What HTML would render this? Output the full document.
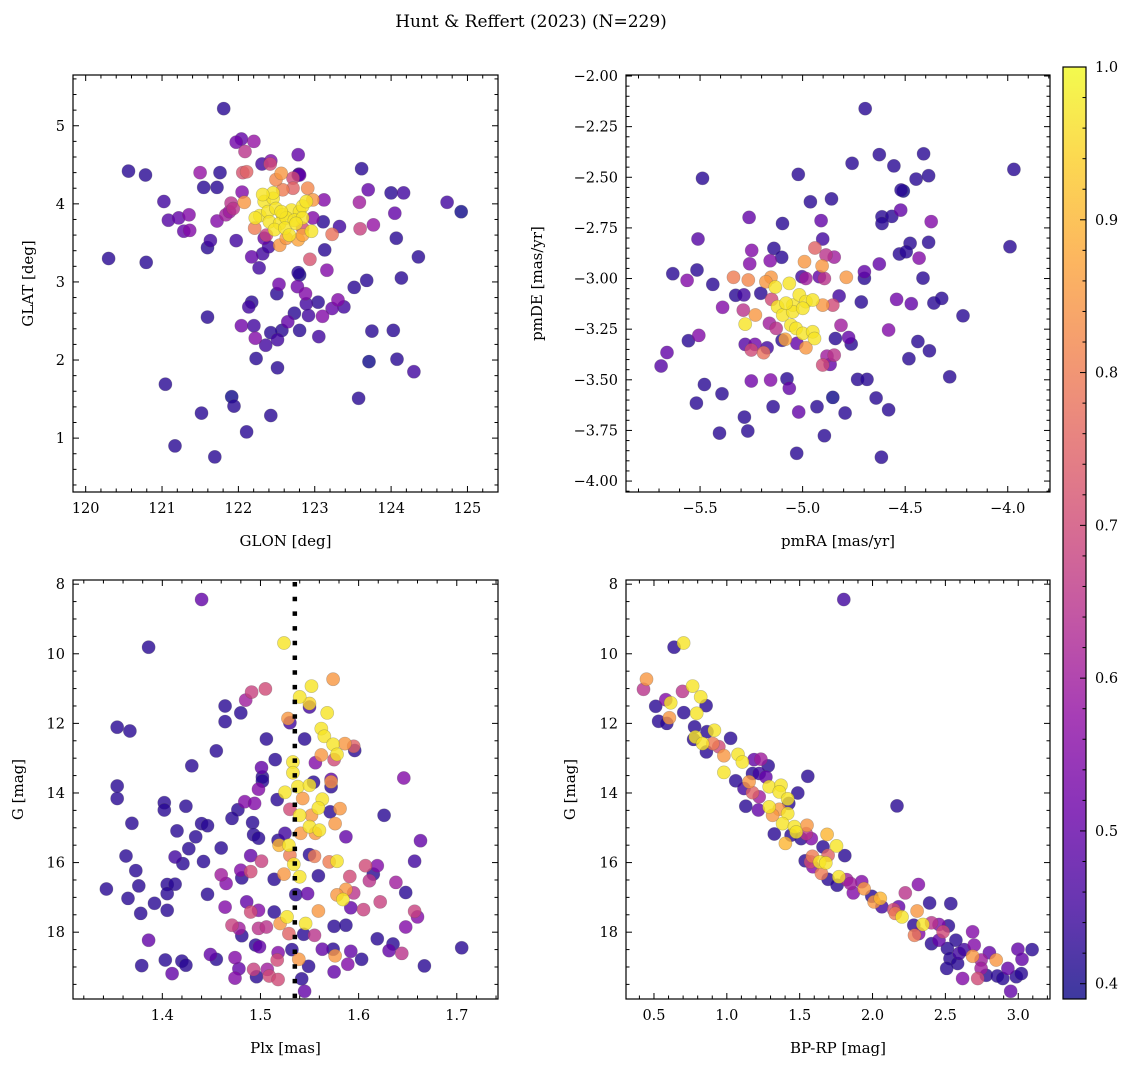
<!DOCTYPE html>
<html><head><meta charset="utf-8"><style>
html,body{margin:0;padding:0;background:#fff;}
svg{display:block;font-family:"DejaVu Serif","Liberation Serif",serif;}
</style></head><body>
<svg id="fig" width="1136" height="1067" viewBox="0 0 1136 1067" xmlns="http://www.w3.org/2000/svg">
<text x="531" y="27" font-size="17" text-anchor="middle">Hunt &amp; Reffert (2023) (N=229)</text>
</svg>
<script>
// ---------- Panel 1: GLON / GLAT ----------
const p1Lon=[121.807,120.561,120.783,121.025,121.083,121.218,121.353,121.285,121.363,120.300,120.793,121.498,121.759,121.546,121.720,121.971,122.039,122.203,122.087,122.058,122.107,122.309,122.425,122.416,122.783,123.613,123.700,124.000,124.164,124.734,124.918,123.585,124.048,123.768,123.594,123.121,123.111,123.324,123.227,124.068,124.357,123.130,122.937,123.159,121.720,121.836,121.904,122.049,121.633,121.595,121.971,122.174,122.319,122.396,122.271,122.783,122.802,122.532,122.503,122.773,122.879,122.889,123.044,123.517,123.681,124.135,123.304,123.382,123.227,123.102,122.918,122.734,122.647,122.802,122.570,122.425,122.512,122.358,122.203,122.222,122.039,122.174,122.136,121.595,123.053,123.749,124.029,123.710,124.077,124.299,122.232,122.512,121.044,121.913,121.942,121.517,122.425,122.107,121.170,121.691,123.575,122.783,122.792,
122.338,122.454,122.280,122.387,122.493,122.580,122.696,122.802,122.841,122.889,122.222,122.406,122.541,122.628,122.734,122.841,122.474,122.609,122.957,122.667,122.454,122.319,122.561,122.754,
122.561,122.493,122.580,122.976,122.078,122.213,122.541,122.628,122.783,122.908,122.715,122.841,
121.933,121.884,122.367,122.338,122.841,122.802,122.715,122.976];
const p1Lat=[5.22,4.42,4.37,4.03,3.79,3.82,3.86,3.65,3.66,3.30,3.25,4.40,4.40,4.21,4.21,4.79,4.83,4.80,4.67,4.40,4.41,4.51,4.55,4.51,4.63,4.45,4.18,4.14,4.14,4.02,3.90,4.02,3.88,3.73,3.68,4.05,3.77,3.71,3.61,3.56,3.32,3.41,3.29,3.15,3.78,3.86,4.01,4.15,3.53,3.44,3.53,3.32,3.36,3.45,3.18,3.12,3.09,2.97,2.85,2.94,2.85,2.72,2.74,2.93,3.02,3.05,2.77,2.68,2.66,2.56,2.57,2.60,2.49,2.38,2.38,2.35,2.26,2.19,2.44,2.28,2.44,2.74,2.68,2.55,2.30,2.37,2.38,1.98,2.01,1.85,2.02,1.90,1.69,1.53,1.41,1.32,1.29,1.08,0.90,0.76,1.51,4.37,4.38,
4.03,4.07,3.85,3.90,3.94,3.86,3.92,3.90,3.97,4.03,3.82,3.77,3.75,3.82,3.79,3.82,3.67,3.69,3.65,3.60,4.14,4.12,3.90,3.75,
4.39,4.31,4.18,4.05,4.02,3.69,3.47,3.56,3.54,4.20,4.20,3.60,
3.94,3.90,3.60,3.56,3.69,4.37,4.33,3.82];
const p1Prob=[0.42,0.42,0.42,0.45,0.48,0.5,0.55,0.5,0.55,0.42,0.42,0.58,0.42,0.42,0.42,0.52,0.5,0.58,0.65,0.72,0.75,0.45,0.55,0.7,0.5,0.42,0.5,0.42,0.45,0.45,0.35,0.6,0.5,0.58,0.68,0.55,0.42,0.45,0.78,0.42,0.42,0.42,0.72,0.55,0.55,0.6,0.65,0.55,0.45,0.42,0.45,0.5,0.45,0.45,0.45,0.42,0.4,0.52,0.42,0.52,0.55,0.45,0.42,0.42,0.42,0.42,0.55,0.45,0.5,0.55,0.45,0.42,0.5,0.42,0.42,0.42,0.45,0.45,0.45,0.55,0.52,0.42,0.45,0.42,0.45,0.42,0.42,0.35,0.42,0.45,0.42,0.42,0.42,0.35,0.42,0.42,0.42,0.42,0.42,0.42,0.42,0.45,0.42,
0.97,0.97,0.97,0.97,0.97,0.97,0.97,0.97,0.97,0.97,0.97,0.97,0.97,0.97,0.97,0.97,0.97,0.97,0.97,0.97,0.97,0.97,0.97,0.97,
0.85,0.82,0.8,0.85,0.85,0.8,0.85,0.85,0.87,0.82,0.75,0.87,
0.65,0.6,0.68,0.5,0.7,0.5,0.7,0.55];

// ---------- Panel 2: pmRA / pmDE ----------
const p2Ra=[-4.695,-5.488,-5.021,-4.759,-4.626,-4.555,-4.410,-4.447,-4.386,-3.970,-3.989,-4.520,-4.509,-4.962,-4.859,-4.522,-4.613,-4.565,-4.613,-4.373,-5.261,-5.098,-4.910,-4.902,-5.510,-4.476,-4.386,-4.528,-4.495,-4.432,-5.633,-5.563,-5.515,-5.438,-5.337,-5.265,-5.248,-5.258,-5.140,-5.158,-5.102,-4.940,-4.991,-4.905,-4.886,-4.846,-4.787,-4.699,-4.699,-4.626,-4.413,-5.390,-4.714,-4.542,-4.470,-4.360,-4.322,-4.218,-4.822,-5.326,-5.286,-5.204,-4.581,-4.813,-5.506,-5.557,-5.661,-5.690,-5.280,-5.232,-5.250,-5.190,-5.173,-5.100,-4.840,-4.776,-4.763,-4.881,-4.846,-4.902,-4.866,-4.438,-4.382,-4.482,-4.283,-5.250,-5.156,-5.076,-5.065,-5.479,-5.393,-5.518,-5.144,-5.019,-4.930,-4.853,-4.793,-4.732,-4.686,-4.642,-4.581,-5.284,-5.267,-5.405,-4.894,-5.029,-4.616,
-5.133,-5.065,-5.122,-5.048,-5.016,-4.984,-4.951,-5.097,-5.048,-5.057,-5.032,-4.999,-4.951,-4.942,-5.280,-5.081,-4.999,
-5.154,-5.179,-5.230,-5.085,-4.984,-4.902,
-5.151,-5.289,-5.129,-5.162,-4.984,-4.894,-4.853,
-4.918,-5.003,-5.028];
const p2De=[-2.161,-2.505,-2.486,-2.431,-2.388,-2.444,-2.384,-2.509,-2.492,-2.461,-2.843,-2.563,-2.568,-2.621,-2.607,-2.662,-2.695,-2.693,-2.728,-2.719,-2.698,-2.728,-2.714,-2.805,-2.805,-2.826,-2.821,-2.879,-2.868,-2.899,-2.976,-3.009,-2.958,-3.029,-2.994,-3.007,-2.861,-2.927,-2.851,-2.912,-2.895,-2.849,-2.917,-2.938,-2.884,-2.894,-2.994,-2.966,-2.999,-2.928,-2.998,-3.142,-3.116,-3.103,-3.124,-3.121,-3.098,-3.184,-3.086,-3.083,-3.081,-3.073,-3.254,-3.231,-3.281,-3.307,-3.365,-3.432,-3.325,-3.325,-3.353,-3.366,-3.342,-3.305,-3.296,-3.291,-3.323,-3.383,-3.378,-3.427,-3.424,-3.311,-3.357,-3.396,-3.485,-3.506,-3.501,-3.495,-3.542,-3.523,-3.569,-3.615,-3.633,-3.659,-3.633,-3.587,-3.664,-3.498,-3.498,-3.590,-3.648,-3.684,-3.753,-3.763,-3.776,-3.863,-3.882,
-3.042,-3.024,-3.139,-3.131,-3.081,-3.114,-3.106,-3.180,-3.164,-3.230,-3.246,-3.271,-3.263,-3.296,-3.225,-3.122,-3.147,
-2.994,-3.016,-3.180,-3.300,-3.342,-3.131,
-3.103,-3.156,-3.246,-3.221,-3.000,-3.000,-3.131,
-2.991,-2.991,-3.320];
const p2Prob=[0.42,0.42,0.42,0.42,0.42,0.42,0.42,0.42,0.42,0.42,0.42,0.42,0.38,0.42,0.42,0.5,0.42,0.42,0.42,0.55,0.5,0.42,0.5,0.45,0.48,0.42,0.42,0.42,0.42,0.55,0.42,0.55,0.42,0.42,0.8,0.82,0.55,0.55,0.42,0.55,0.42,0.75,0.85,0.85,0.65,0.6,0.85,0.5,0.42,0.5,0.42,0.55,0.42,0.52,0.5,0.42,0.42,0.42,0.45,0.42,0.45,0.42,0.55,0.6,0.55,0.42,0.5,0.48,0.48,0.52,0.7,0.78,0.45,0.42,0.42,0.5,0.42,0.6,0.65,0.7,0.5,0.42,0.42,0.42,0.42,0.52,0.55,0.42,0.5,0.42,0.42,0.42,0.42,0.5,0.42,0.38,0.42,0.42,0.42,0.42,0.42,0.42,0.42,0.42,0.42,0.42,0.42,
0.97,0.97,0.97,0.97,0.97,0.97,0.97,0.97,0.97,0.97,0.97,0.97,0.97,0.97,0.97,0.97,0.97,
0.85,0.85,0.85,0.87,0.85,0.85,
0.7,0.65,0.65,0.6,0.6,0.65,0.7,
0.5,0.45,0.5];

// ---------- Panel 3: Plx / G ----------
const p3Plx=[1.440,1.386,1.524,1.574,1.552,1.540,1.550,1.550,1.505,1.491,1.485,1.464,1.464,1.480,1.568,1.528,1.530,1.354,1.367,1.562,1.565,1.545,1.506,1.574,1.586,1.595,1.596,1.578,1.562,1.556,1.575,1.455,1.515,1.533,1.533,1.501,1.502,1.502,1.498,1.430,1.354,1.354,1.402,1.402,1.424,1.369,1.646,1.525,1.538,1.550,1.554,1.572,1.572,1.572,1.543,1.563,1.559,1.517,1.530,1.571,1.581,1.576,1.540,1.552,1.550,1.560,1.556,1.541,1.626,1.484,1.494,1.477,1.471,1.492,1.493,1.498,1.525,1.518,1.519,1.529,1.440,1.446,1.434,1.415,1.427,1.460,1.363,1.413,1.421,1.442,1.490,1.501,1.530,1.550,1.555,1.570,1.578,1.587,1.663,1.657,1.534,1.373,1.376,1.343,1.365,1.378,1.392,1.405,1.413,1.405,1.405,1.446,1.460,1.465,1.480,1.490,1.481,1.514,1.524,1.540,1.559,1.591,1.607,1.619,1.615,1.611,1.638,1.648,1.548,1.587,1.578,1.584,1.595,1.622,1.536,1.486,1.490,1.498,1.464,1.514,1.592,1.605,1.559,1.657,1.660,1.648,1.527,1.520,1.546,1.471,1.478,1.481,1.498,1.506,1.529,1.544,1.555,1.575,1.587,1.619,1.635,1.631,1.644,1.705,1.386,1.379,1.403,1.410,1.420,1.424,1.449,1.455,1.474,1.478,1.474,1.493,1.496,1.495,1.499,1.507,1.509,1.518,1.517,1.518,1.532,1.539,1.549,1.542,1.545,1.563,1.574,1.576,1.575,1.592,1.589,1.603,1.667];
const p3G=[8.44,9.81,9.69,10.73,10.93,11.24,11.43,11.53,11.01,11.10,11.33,11.50,11.95,11.70,11.70,11.86,11.98,12.11,12.22,12.15,12.37,12.45,12.45,12.60,12.58,12.66,12.78,12.89,12.91,13.13,13.04,12.79,13.04,13.11,13.42,13.27,13.54,13.66,13.89,13.22,13.80,14.16,14.28,14.49,14.38,14.87,13.57,13.98,13.82,13.78,13.69,13.61,13.68,13.82,14.16,14.18,14.43,14.19,14.47,14.54,14.45,14.88,14.64,14.64,14.97,15.07,15.16,15.16,14.64,14.25,14.30,14.48,14.73,14.85,15.20,15.30,15.16,15.36,15.50,15.50,14.88,14.94,15.26,15.09,15.60,15.58,15.81,15.84,16.03,15.97,15.80,15.96,15.79,15.77,15.82,15.98,15.96,15.26,15.37,15.96,16.05,16.23,16.67,16.76,17.03,17.46,17.17,16.63,16.62,16.89,17.37,16.91,16.35,16.60,16.22,16.26,16.44,16.48,16.33,16.41,16.38,16.40,16.09,16.09,16.33,16.52,16.57,16.86,16.89,16.77,16.93,17.06,16.87,17.13,16.92,17.13,17.42,17.37,17.28,17.42,17.30,17.35,17.39,17.40,17.56,17.85,17.56,17.75,17.75,17.80,17.89,18.10,17.89,17.85,18.04,18.06,18.09,17.83,17.80,18.19,18.34,18.53,18.61,18.45,18.23,18.96,18.80,19.19,18.83,18.95,18.64,18.78,18.73,19.05,19.32,19.07,19.28,18.37,18.42,19.07,19.26,19.36,18.80,18.59,18.50,18.78,18.98,19.34,19.70,18.49,18.49,18.68,19.14,18.55,18.92,18.78,18.97];
const p3Prob=[0.5,0.42,0.97,0.85,0.97,0.97,0.95,0.45,0.7,0.68,0.6,0.42,0.42,0.42,0.97,0.85,0.45,0.42,0.42,0.97,0.97,0.42,0.42,0.97,0.85,0.75,0.42,0.97,0.85,0.55,0.7,0.42,0.42,0.97,0.97,0.5,0.42,0.42,0.55,0.42,0.42,0.42,0.42,0.42,0.42,0.42,0.55,0.97,0.97,0.97,0.42,0.5,0.85,0.42,0.85,0.97,0.97,0.42,0.7,0.42,0.85,0.85,0.97,0.85,0.97,0.97,0.85,0.85,0.42,0.55,0.55,0.42,0.42,0.42,0.42,0.42,0.45,0.42,0.9,0.97,0.42,0.42,0.42,0.42,0.42,0.42,0.42,0.45,0.42,0.42,0.5,0.68,0.8,0.42,0.8,0.8,0.97,0.5,0.5,0.45,0.97,0.42,0.42,0.42,0.42,0.42,0.42,0.42,0.42,0.42,0.42,0.42,0.6,0.55,0.55,0.7,0.42,0.42,0.85,0.97,0.42,0.7,0.7,0.55,0.42,0.65,0.6,0.42,0.5,0.85,0.85,0.97,0.65,0.68,0.42,0.5,0.7,0.55,0.55,0.42,0.5,0.68,0.85,0.68,0.55,0.55,0.97,0.85,0.97,0.68,0.6,0.42,0.65,0.65,0.75,0.42,0.65,0.42,0.42,0.42,0.42,0.5,0.65,0.42,0.5,0.42,0.42,0.5,0.42,0.42,0.5,0.42,0.55,0.5,0.55,0.68,0.42,0.42,0.5,0.6,0.7,0.7,0.7,0.55,0.42,0.85,0.42,0.42,0.5,0.5,0.42,0.85,0.5,0.5,0.55,0.42,0.42];

// ---------- Panel 4: BP-RP / G ----------
const p4Col=[1.803,0.638,0.703,0.449,0.428,0.512,0.581,0.615,0.532,0.588,0.606,0.696,0.765,0.821,0.858,0.705,0.793,0.779,0.915,0.864,0.784,0.834,0.772,0.860,0.904,0.945,0.980,1.026,1.077,1.107,0.980,1.061,1.187,1.234,1.284,1.176,1.222,1.268,1.118,1.153,1.176,1.291,1.372,1.360,1.487,1.556,1.222,1.130,1.217,1.291,1.360,1.418,1.425,1.418,1.314,1.383,1.464,1.550,1.476,1.326,1.402,1.441,1.510,1.580,1.545,1.688,1.753,1.660,1.810,1.538,1.575,1.587,1.637,1.679,1.695,1.649,1.591,1.695,1.769,1.757,1.822,1.849,1.868,1.926,1.942,1.995,2.053,2.064,2.011,2.145,2.179,2.156,2.202,2.225,2.315,2.306,2.392,2.537,2.283,2.288,2.346,2.317,2.405,2.456,2.484,2.521,2.572,2.405,2.456,2.514,2.532,2.595,2.584,2.687,2.698,2.687,2.618,2.509,2.745,2.802,2.849,2.745,2.722,2.780,2.856,2.929,2.987,3.021,2.998,3.095,3.026,2.948,2.894,2.168,2.629];
const p4G=[8.44,9.81,9.69,10.73,11.02,11.51,11.32,11.41,11.94,12.00,11.84,11.08,10.93,11.24,11.49,11.69,11.71,12.10,12.20,12.24,12.39,12.58,12.46,12.82,12.58,12.67,12.93,12.43,12.89,13.11,13.41,13.65,13.04,13.03,13.22,13.44,13.44,13.54,13.87,13.68,13.99,13.82,13.78,13.97,14.00,13.52,14.11,14.38,14.49,14.40,14.47,14.17,14.30,14.59,14.64,14.88,14.97,14.93,15.12,15.18,15.45,15.21,15.31,15.31,15.17,15.19,15.52,15.55,15.80,15.95,15.98,15.82,15.98,16.01,15.79,16.31,16.12,16.48,16.41,16.65,16.49,16.60,16.87,16.55,16.75,16.97,17.03,17.27,17.13,17.35,17.27,17.46,17.56,16.87,16.63,17.39,17.16,17.18,17.80,18.09,17.78,18.04,17.73,17.78,17.99,17.82,18.23,18.33,18.23,18.47,18.76,18.61,18.90,17.99,18.37,18.69,19.33,19.04,18.80,18.59,18.80,19.04,19.33,19.24,19.26,19.04,19.28,19.19,18.49,18.50,18.78,19.70,19.33,14.37,18.50];
const p4Prob=[0.45,0.42,0.97,0.85,0.65,0.42,0.55,0.97,0.42,0.42,0.85,0.65,0.97,0.97,0.42,0.42,0.97,0.42,0.97,0.42,0.97,0.97,0.42,0.42,0.8,0.7,0.85,0.42,0.97,0.97,0.97,0.42,0.5,0.6,0.42,0.42,0.45,0.5,0.45,0.85,0.75,0.97,0.97,0.97,0.42,0.42,0.6,0.42,0.5,0.97,0.85,0.97,0.42,0.97,0.85,0.97,0.97,0.85,0.97,0.42,0.9,0.42,0.42,0.55,0.65,0.9,0.97,0.42,0.42,0.42,0.7,0.8,0.97,0.97,0.75,0.8,0.55,0.42,0.97,0.42,0.6,0.6,0.55,0.55,0.85,0.42,0.9,0.45,0.85,0.7,0.5,0.8,0.97,0.65,0.55,0.85,0.42,0.42,0.42,0.8,0.97,0.55,0.65,0.55,0.7,0.42,0.42,0.42,0.5,0.42,0.42,0.45,0.42,0.55,0.55,0.85,0.55,0.42,0.6,0.5,0.85,0.6,0.7,0.42,0.42,0.5,0.42,0.42,0.5,0.42,0.5,0.5,0.42,0.42,0.45];

const plxRef=[1.535];
const cbTicks=[0.4,0.5,0.6,0.7,0.8,0.9,1.0];

const NS="http://www.w3.org/2000/svg";
const svg=document.getElementById('fig');
const VMIN=0.39,VMAX=1.0;
const stops=[[13,8,135],[65,4,157],[106,0,168],[143,13,164],[177,42,144],[204,71,120],[225,100,98],[242,132,75],[252,166,54],[252,206,37],[240,249,33]];
function plasma(v){let t=(v-VMIN)/(VMAX-VMIN);t=Math.max(0,Math.min(1,t))*10;const i=Math.min(9,Math.floor(t)),f=t-i;const a=stops[i],b=stops[i+1];return 'rgb('+[0,1,2].map(k=>Math.round(a[k]+(b[k]-a[k])*f)).join(',')+')';}
function mk(tag,attrs,parent){const e=document.createElementNS(NS,tag);for(const k in attrs)e.setAttribute(k,attrs[k]);(parent||svg).appendChild(e);return e;}

function panel(o){
  const g=mk('g',{});
  
  
  const sx=v=>o.L+(v-o.x0)/(o.x1-o.x0)*(o.R-o.L);
  const sy=v=>o.B-(v-o.y0)/(o.y1-o.y0)*(o.B-o.T);
  const clip='c'+o.name;
  const cp=mk('clipPath',{id:clip},g);mk('rect',{x:o.L,y:o.T,width:o.R-o.L,height:o.B-o.T},cp);
  const pg=mk('g',{'clip-path':'url(#'+clip+')'},g);
  
  
  const idx=o.xs.map((_,i)=>i).sort((a,b)=>o.ps[a]-o.ps[b]);
  idx.forEach(i=>{
    const c=mk('circle',{cx:sx(o.xs[i]).toFixed(1),cy:sy(o.ys[i]).toFixed(1),r:6.6,fill:plasma(o.ps[i]),'fill-opacity':0.8,stroke:'#555','stroke-opacity':0.35,'stroke-width':0.6},pg);
    
    
  });
  if(o.vline){o.vline.forEach(v=>{const l=mk('line',{x1:sx(v),x2:sx(v),y1:o.T+2,y2:o.B,stroke:'#000','stroke-width':4.5,'stroke-dasharray':'4.5 10.2'},pg);
    
    });}
  const fr=mk('rect',{x:o.L,y:o.T,width:o.R-o.L,height:o.B-o.T,fill:'none',stroke:'#000','stroke-width':1.2},g);
  
  
  const eps=1e-9;
  const xa=Math.min(o.x0,o.x1),xb=Math.max(o.x0,o.x1),ya=Math.min(o.y0,o.y1),yb=Math.max(o.y0,o.y1);
  for(let k=Math.ceil(xa/o.xmin-eps);k*o.xmin<=xb+eps;k++){
    const v=k*o.xmin;
    const isMaj=Math.abs(v/o.xmaj-Math.round(v/o.xmaj))<1e-6;const len=isMaj?6:3.5;const X=sx(v);
    mk('line',{x1:X,x2:X,y1:o.B,y2:o.B-len,stroke:'#000','stroke-width':1},g);
    mk('line',{x1:X,x2:X,y1:o.T,y2:o.T+len,stroke:'#000','stroke-width':1},g);
    if(isMaj){const t=mk('text',{x:X,y:o.B+21,'font-size':14.5,'text-anchor':'middle'},g);t.textContent=o.xfmt(v);
      }
  }
  for(let k=Math.ceil(ya/o.ymin-eps);k*o.ymin<=yb+eps;k++){
    const v=k*o.ymin;
    const isMaj=Math.abs(v/o.ymaj-Math.round(v/o.ymaj))<1e-6;const len=isMaj?6:3.5;const Y=sy(v);
    mk('line',{x1:o.L,x2:o.L+len,y1:Y,y2:Y,stroke:'#000','stroke-width':1},g);
    mk('line',{x1:o.R,x2:o.R-len,y1:Y,y2:Y,stroke:'#000','stroke-width':1},g);
    if(isMaj){const t=mk('text',{x:o.L-8,y:Y+5,'font-size':14.5,'text-anchor':'end'},g);t.textContent=o.yfmt(v);
      }
  }
  const xl=mk('text',{x:(o.L+o.R)/2,y:o.B+54,'font-size':15,'text-anchor':'middle'},g);xl.textContent=o.xlab;
  
  const yx=o.ylx;const yc=(o.T+o.B)/2;
  const yl=mk('text',{x:yx,y:yc,'font-size':15,'text-anchor':'middle',transform:'rotate(-90 '+yx+' '+yc+')'},g);yl.textContent=o.ylab;
  
}
const fmtM=(d)=>v=>{const s=v.toFixed(d);return s.startsWith('-')?'\u2212'+s.slice(1):s;};
panel({name:'sky-position-panel',L:73,R:498,T:75,B:492,x0:119.834,x1:125.40,y0:0.31,y1:5.65,xmaj:1,xmin:0.2,ymaj:1,ymin:0.2,xfmt:fmtM(0),yfmt:fmtM(0),xlab:'GLON [deg]',ylab:'GLAT [deg]',ylx:33,xs:p1Lon,ys:p1Lat,ps:p1Prob});
panel({name:'proper-motion-panel',L:626,R:1050,T:75,B:492,x0:-5.861,x1:-3.794,y0:-4.054,y1:-1.995,xmaj:0.5,xmin:0.1,ymaj:0.25,ymin:0.05,xfmt:fmtM(1),yfmt:fmtM(2),xlab:'pmRA [mas/yr]',ylab:'pmDE [mas/yr]',ylx:542,xs:p2Ra,ys:p2De,ps:p2Prob});
panel({name:'parallax-magnitude-panel',L:73,R:498,T:580,B:999,x0:1.309,x1:1.742,y0:19.92,y1:7.88,xmaj:0.1,xmin:0.02,ymaj:2,ymin:0.5,xfmt:fmtM(1),yfmt:fmtM(0),xlab:'Plx [mas]',ylab:'G [mag]',ylx:23,xs:p3Plx,ys:p3G,ps:p3Prob,vline:plxRef});
panel({name:'color-magnitude-panel',L:626,R:1050,T:580,B:999,x0:0.308,x1:3.218,y0:19.92,y1:7.88,xmaj:0.5,xmin:0.1,ymaj:2,ymin:0.5,xfmt:fmtM(1),yfmt:fmtM(0),xlab:'BP-RP [mag]',ylab:'G [mag]',ylx:575,xs:p4Col,ys:p4G,ps:p4Prob});

// ---------- Colorbar ----------
(function(){
  const L=1063,R=1086,T=67,B=999;
  const cb=mk('g',{});
  
  
  const defs=mk('defs',{},cb);
  const gr=mk('linearGradient',{id:'plasmaGrad',x1:0,y1:1,x2:0,y2:0},defs);
  for(let i=0;i<=20;i++){const v=VMIN+(VMAX-VMIN)*i/20;mk('stop',{offset:(i/20),'stop-color':plasma(v),'stop-opacity':0.8},gr);}
  const r=mk('rect',{x:L,y:T,width:R-L,height:B-T,fill:'url(#plasmaGrad)',stroke:'#000','stroke-width':1.2},cb);
  
  
  const sy=v=>B-(v-VMIN)/(VMAX-VMIN)*(B-T);
  for(let k=0;k<=30;k++){const v=0.4+k*0.02;if(v>VMAX+1e-9)break;const isMaj=k%5===0;const Y=sy(v);
    mk('line',{x1:R,x2:R-(isMaj?6:3.5),y1:Y,y2:Y,stroke:'#000','stroke-width':1},cb);}
  cbTicks.forEach(v=>{const t=mk('text',{x:R+9,y:sy(v)+5,'font-size':14.5},cb);t.textContent=v.toFixed(1);
    });
})();
</script>
</body></html>
